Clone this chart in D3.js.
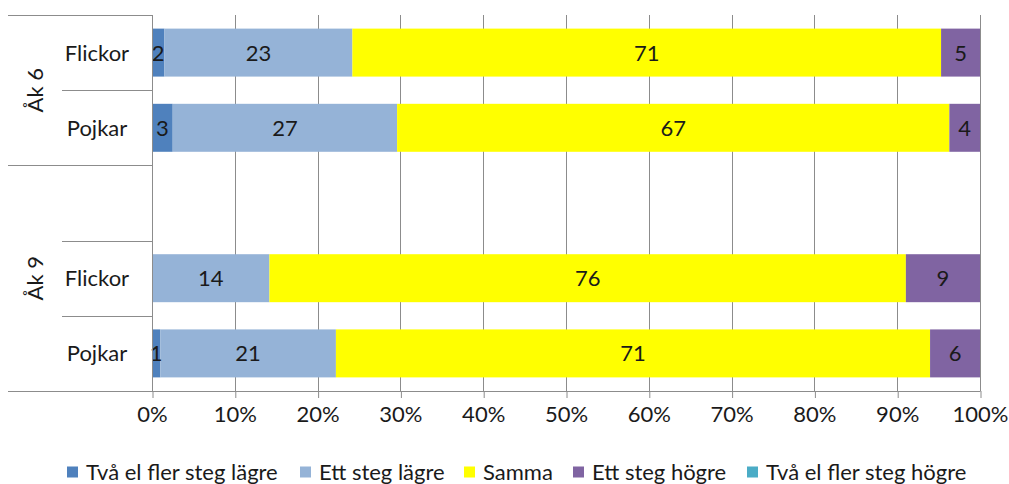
<!DOCTYPE html>
<html>
<head>
<meta charset="utf-8">
<script src="https://cdn.jsdelivr.net/npm/d3@7"></script>
<style>
  html, body { margin: 0; padding: 0; background: #fff; }
  svg { display: block; font-family: Lato, "Open Sans", sans-serif; }
</style>
</head>
<body>
<svg id="chart" width="1009" height="484"></svg>
<script>
// ---- data ----
const groups = ["Åk 6", "Åk 6", "Åk 9", "Åk 9", "Åk 9"];
const categories = ["Flickor", "Pojkar", "", "Flickor", "Pojkar"];
const seriesNames = ["Två el fler steg lägre", "Ett steg lägre", "Samma", "Ett steg högre", "Två el fler steg högre"];
const seriesColors = ["#4F81BD", "#95B3D7", "#FFFF00", "#8064A2", "#4BACC6"];
const tvaLagre  = [1.5, 2.5, null, 0.0, 1.0];
const ettLagre  = [22.7, 27.1, null, 14.1, 21.1];
const samma     = [71.1, 66.7, null, 76.4, 71.4];
const ettHogre  = [4.7, 3.7, null, 8.9, 6.0];
const tvaHogre  = [0.0, 0.0, null, 0.0, 0.0];
const tickLabels = ["0%", "10%", "20%", "30%", "40%", "50%", "60%", "70%", "80%", "90%", "100%"];

const seriesValues = [tvaLagre, ettLagre, samma, ettHogre, tvaHogre];

(function () {
// ---- build table ----
const rows = categories.map((c, i) => {
  const r = { key: groups[i] + "|" + c + "|" + i, group: groups[i], cat: c, empty: tvaLagre[i] === null };
  seriesNames.forEach((s, j) => { r[s] = seriesValues[j][i] || 0; });
  return r;
});

const svg = d3.select("#chart");
const pLeft = 152, pRight = 980, pTop = 15, pBottom = 391;
const fontSize = 22;

const x = d3.scaleLinear().domain([0, 1]).range([pLeft, pRight]);
const y = d3.scaleBand().domain(rows.map(r => r.key)).range([pTop, pBottom])
  .paddingInner(0.362).paddingOuter(0.181);
const color = d3.scaleOrdinal().domain(seriesNames).range(seriesColors);

const stack = d3.stack().keys(seriesNames).offset(d3.stackOffsetExpand);
const stacked = stack(rows.filter(r => !r.empty));

const gridColor = "#8c8c8c";

// gridlines
const ticks = d3.range(0, 11).map(d => d / 10);
svg.append("g").selectAll("line").data(ticks).join("line")
  .attr("x1", d => Math.round(x(d)) + 0.5).attr("x2", d => Math.round(x(d)) + 0.5)
  .attr("y1", pTop).attr("y2", pBottom)
  .attr("stroke", gridColor).attr("stroke-width", 1);

// bars
const layers = svg.append("g").selectAll("g").data(stacked).join("g")
  .attr("fill", d => color(d.key));
layers.selectAll("rect").data(d => d).join("rect")
  .attr("x", d => x(d[0]))
  .attr("width", d => x(d[1]) - x(d[0]))
  .attr("y", d => y(d.data.key))
  .attr("height", y.bandwidth());

// value labels
stacked.forEach(layer => {
  svg.append("g").selectAll("text").data(layer.filter(d => d.data[layer.key] > 0)).join("text")
    .attr("x", d => (x(d[0]) + x(d[1])) / 2)
    .attr("y", d => y(d.data.key) + y.bandwidth() / 2)
    .attr("dy", "0.36em")
    .attr("text-anchor", "middle")
    .attr("font-size", fontSize)
    .attr("fill", "#1a1a1a")
    .text(d => Math.round(d.data[layer.key]));
});

// value axis
const xAxis = d3.axisBottom(x).tickValues(ticks).tickSize(7).tickPadding(8)
  .tickFormat((d, i) => tickLabels[i]);
const ax = svg.append("g").attr("transform", `translate(0,${pBottom})`).call(xAxis);
ax.select(".domain").remove();
ax.attr("font-family", null).attr("font-size", null);
ax.selectAll(".tick line").attr("stroke", gridColor).attr("transform", "translate(0.5,0)");
ax.selectAll(".tick text").attr("font-size", fontSize).attr("fill", "#1a1a1a");

// axis lines
svg.append("line").attr("x1", 8).attr("x2", pRight + 0.5).attr("y1", pBottom + 0.5).attr("y2", pBottom + 0.5)
  .attr("stroke", gridColor);
svg.append("line").attr("x1", pLeft + 0.5).attr("x2", pLeft + 0.5).attr("y1", pTop).attr("y2", pBottom)
  .attr("stroke", gridColor);

// category axis hierarchical lines
const halfGap = (y.step() - y.bandwidth()) / 2;
const slotTop = k => y(k) - halfGap;
rows.forEach((r, i) => {
  const newGroup = i === 0 || rows[i - 1].group !== r.group;
  const yy = Math.round(slotTop(r.key)) + 0.5;
  svg.append("line")
    .attr("x1", newGroup ? 8 : 62).attr("x2", pLeft)
    .attr("y1", yy).attr("y2", yy)
    .attr("stroke", gridColor);
});

// category labels
svg.append("g").selectAll("text").data(rows.filter(r => r.cat)).join("text")
  .attr("x", 97)
  .attr("y", r => y(r.key) + y.bandwidth() / 2)
  .attr("dy", "0.36em")
  .attr("text-anchor", "middle")
  .attr("font-size", fontSize)
  .attr("fill", "#1a1a1a")
  .text(r => r.cat);

// group labels
const groupNames = Array.from(new Set(groups));
groupNames.forEach(g => {
  const gr = rows.filter(r => r.group === g);
  const y0 = slotTop(gr[0].key);
  const y1 = slotTop(gr[gr.length - 1].key) + y.step();
  const cy = (y0 + y1) / 2;
  svg.append("text")
    .attr("transform", `translate(35,${cy}) rotate(-90)`)
    .attr("dy", "0.36em")
    .attr("text-anchor", "middle")
    .attr("font-size", fontSize)
    .attr("fill", "#1a1a1a")
    .text(g);
});

// legend
const legendX = [67, 300, 464, 573, 747];
const legend = svg.append("g").selectAll("g").data(seriesNames).join("g")
  .attr("transform", (d, i) => `translate(${legendX[i]},472)`);
legend.append("rect").attr("x", 0).attr("y", -5.5).attr("width", 11).attr("height", 11)
  .attr("fill", d => color(d));
legend.append("text").attr("x", 19).attr("dy", "0.36em")
  .attr("font-size", fontSize).attr("fill", "#1a1a1a").text(d => d);
})();
</script>
</body>
</html>
